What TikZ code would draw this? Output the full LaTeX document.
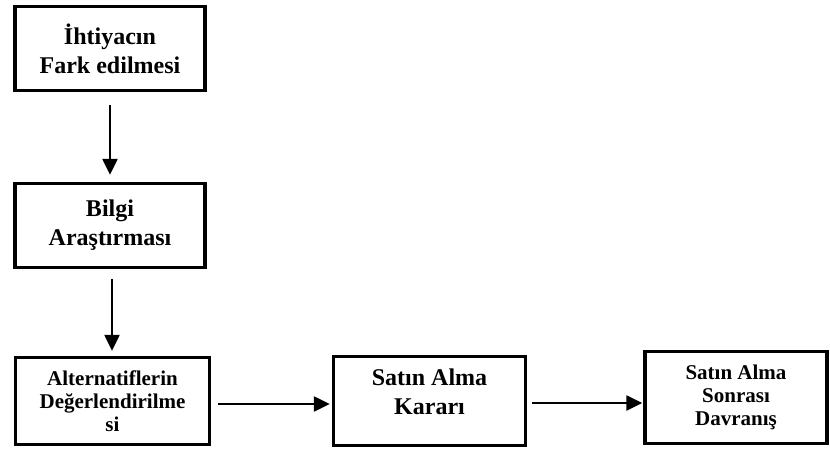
\documentclass[tikz,border=0pt]{standalone}
\usepackage{fontspec}
\setmainfont{Liberation Serif}
\usetikzlibrary{arrows.meta,positioning,calc}

\begin{document}
\begin{tikzpicture}[
    x=1pt, y=-1pt,
    stage/.style={rectangle, draw, line width=3.4pt, align=center, inner sep=2pt},
    bigtext/.style={font=\fontsize{24}{29}\selectfont\bfseries},
    smalltext/.style={font=\fontsize{21}{23}\selectfont\bfseries},
    flow/.style={draw, line width=2.4pt, -{Triangle[length=16pt,width=15pt]}}
]

% Page frame
\useasboundingbox (0,0) rectangle (830,455);

% Define column and row positions
\def\leftcol{110}
\def\midcol{429.5}
\def\rightcol{736}
\def\bottomrow{401}

% Left column
\node[stage, bigtext, minimum width=190pt, minimum height=84pt] (need) at (\leftcol, 48.5) {İhtiyacın\\Fark edilmesi};
\node[stage, bigtext, minimum width=190pt, minimum height=84pt] (info) at (\leftcol, 225.5) {Bilgi\\Araştırması};
\node[stage, smalltext, minimum width=194pt, minimum height=87pt] (eval) at (112.5, \bottomrow) {Alternatiflerin\\Değerlendirilme\\si};

% Bottom row
\node[stage, bigtext, minimum width=192pt, minimum height=89pt] (decision) at (\midcol, \bottomrow) {Satın Alma\\Kararı\\[-10pt]};
\node[stage, smalltext, minimum width=182pt, minimum height=92pt] (post) at (\rightcol, 397.5) {Satın Alma\\Sonrası\\Davranış};

% Arrows - down the left column
\draw[flow, shorten <=13pt, shorten >=7pt] (need.south) -- (need.south |- info.north);
\draw[flow, shorten <=10pt, shorten >=5pt] ([xshift=2pt]info.south) -- ([xshift=2pt]info.south |- eval.north);

% Arrows - along the bottom row
\draw[flow, shorten <=7pt, shorten >=2pt] ([yshift=-3pt]eval.east) -- ([yshift=-3pt]eval.east -| decision.west);
\draw[flow, shorten <=5pt, shorten >=1pt] ([yshift=-2pt]decision.east) -- ([yshift=-2pt]decision.east -| post.west);

\end{tikzpicture}
\end{document}
